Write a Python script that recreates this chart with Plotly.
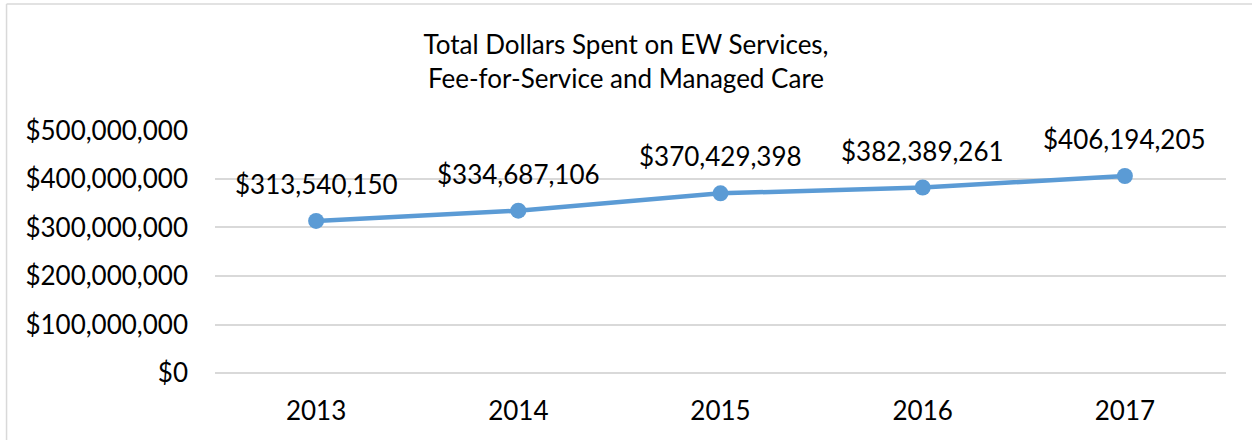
import plotly.graph_objects as go

years = ["2013", "2014", "2015", "2016", "2017"]
dollars = [313540150, 334687106, 370429398, 382389261, 406194205]
y_ticks = [0, 100000000, 200000000, 300000000, 400000000, 500000000]

FONT = "Lato"
BLUE = "#5B9BD5"
GRID = "#D9D9D9"

fig = go.Figure()
fig.add_trace(go.Scatter(
    x=years, y=dollars, mode="lines+markers",
    line=dict(color=BLUE, width=4.5),
    marker=dict(color=BLUE, size=16),
    hoverinfo="skip", showlegend=False,
))

# data labels above each point (category index positions on the x axis)
for i, v in enumerate(dollars):
    fig.add_annotation(x=i, y=v, xref="x", yref="y", text=f"${v:,}",
                       showarrow=False, yshift=37,
                       font=dict(family=FONT, size=26, color="#000000"))

# chart border (left and top edges visible)
fig.add_shape(type="line", xref="paper", yref="paper",
              x0=-0.2062, x1=-0.2062, y0=-0.35, y1=1.5185,
              line=dict(color=GRID, width=1.5))
fig.add_shape(type="line", xref="paper", yref="paper",
              x0=-0.2062, x1=1.1, y0=1.5185, y1=1.5185,
              line=dict(color=GRID, width=1.5))

fig.update_layout(
    width=1252, height=440,
    margin=dict(l=215, r=26, t=130, b=67),
    paper_bgcolor="white", plot_bgcolor="white",
    font=dict(family=FONT, size=26, color="#000000"),
    title=dict(text="Total Dollars Spent on EW Services,<br>Fee-for-Service and Managed Care",
               x=0.5, xanchor="center", xref="container",
               y=1 - 54 / 440, yanchor="middle",
               font=dict(family=FONT, size=26, color="#000000")),
    xaxis=dict(type="category", range=[-0.5, 4.5], showgrid=False, zeroline=False,
               showline=False, ticks="", ticklabelstandoff=20,
               tickfont=dict(family=FONT, size=26)),
    yaxis=dict(range=[0, 501000000], tickvals=y_ticks, tickformat="$,.0f",
               showgrid=True, gridcolor=GRID, gridwidth=1.5,
               zeroline=True, zerolinecolor=GRID, zerolinewidth=1.5,
               showline=False, ticks="", ticklabelstandoff=26,
               tickfont=dict(family=FONT, size=26)),
)

fig.write_html("out.html", config={"displayModeBar": False},
               post_script="document.body.style.margin='0';document.body.style.overflow='hidden';")
